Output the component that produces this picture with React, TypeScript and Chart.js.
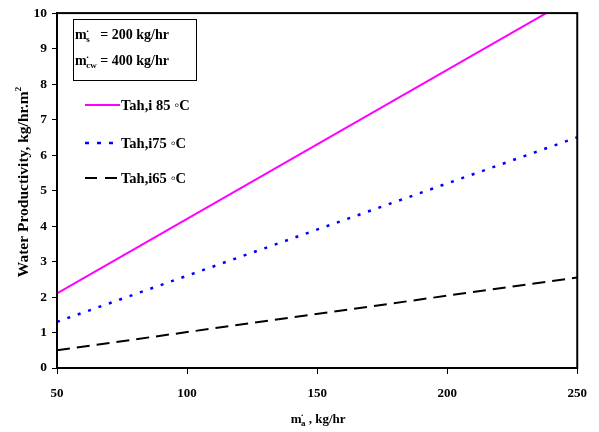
import React, { useEffect, useRef } from "react";
import { Chart, registerables } from "chart.js";

Chart.register(...registerables);

const xValues = [50, 250];
const tah85 = [2.1, 10.5];
const tah75 = [1.3, 6.5];
const tah65 = [0.5, 2.55];
const seriesLabels = ["Tah,i 85 \u25E6C", "Tah,i75 \u25E6C", "Tah,i65 \u25E6C"];
const xTicks = [50, 100, 150, 200, 250];
const yTicks = [0, 1, 2, 3, 4, 5, 6, 7, 8, 9, 10];
const flowS = "200";
const flowCw = "400";

const FONT = "'Liberation Serif', 'Times New Roman', serif";

type Part = { t: string; s: number; dy: number; dx?: number };

function drawParts(ctx: CanvasRenderingContext2D, parts: Part[], x: number, y: number, align: "left" | "center") {
  let total = 0;
  for (const p of parts) {
    ctx.font = `bold ${p.s}px ${FONT}`;
    total += ctx.measureText(p.t).width + (p.dx || 0);
  }
  let cx = align === "center" ? x - total / 2 : x;
  ctx.textAlign = "left";
  ctx.textBaseline = "alphabetic";
  for (const p of parts) {
    ctx.font = `bold ${p.s}px ${FONT}`;
    cx += p.dx || 0;
    ctx.fillText(p.t, cx, y + p.dy);
    cx += ctx.measureText(p.t).width;
  }
}

const decorPlugin = {
  id: "decor",
  afterDraw(chart: any) {
    const ctx: CanvasRenderingContext2D = chart.ctx;
    const a = chart.chartArea;
    ctx.save();
    ctx.fillStyle = "#000";
    ctx.strokeStyle = "#000";
    // frame
    ctx.lineWidth = 2;
    ctx.strokeRect(a.left, a.top, a.right - a.left, a.bottom - a.top);

    // info box
    ctx.lineWidth = 1;
    ctx.strokeRect(73.5, 19.5, 123, 61);
    drawParts(ctx, [
      { t: "m", s: 14, dy: 0 },
      { t: "\u02D9", s: 11, dy: -1, dx: -1 },
      { t: "s", s: 9, dy: 3, dx: -3 },
      { t: "   = " + flowS + " kg/hr", s: 14, dy: 0 },
    ], 75, 39, "left");
    drawParts(ctx, [
      { t: "m", s: 14, dy: 0 },
      { t: "\u02D9", s: 11, dy: -1, dx: -1 },
      { t: "cw", s: 9, dy: 3, dx: -3 },
      { t: " = " + flowCw + " kg/hr", s: 14, dy: 0 },
    ], 75, 65, "left");

    // legend
    const ys = [105, 143, 178];
    chart.data.datasets.forEach((ds: any, i: number) => {
      const y = ys[i];
      ctx.save();
      ctx.strokeStyle = ds.borderColor;
      ctx.lineWidth = ds.borderWidth;
      ctx.setLineDash(ds.legendDash || []);
      ctx.beginPath();
      ctx.moveTo(85, y);
      ctx.lineTo(120, y);
      ctx.stroke();
      ctx.restore();
      ctx.fillStyle = "#000";
      ctx.font = `bold 14.5px ${FONT}`;
      ctx.textAlign = "left";
      ctx.textBaseline = "middle";
      ctx.fillText(ds.label, 121, y + 1);
    });

    // x title
    drawParts(ctx, [
      { t: "m", s: 13, dy: 0 },
      { t: "\u02D9", s: 10, dy: -1, dx: -1 },
      { t: "a", s: 9, dy: 3, dx: -3 },
      { t: " , kg/hr", s: 13, dy: 0 },
    ], (a.left + a.right) / 2 + 1, 423, "center");

    // y title
    ctx.save();
    ctx.translate(28, 182);
    ctx.rotate(-Math.PI / 2);
    drawParts(ctx, [
      { t: "Water Productivity, kg/hr.m", s: 15.5, dy: 0 },
      { t: "2", s: 9, dy: -7 },
    ], 0, 0, "center");
    ctx.restore();
    ctx.restore();
  },
};

export default function App() {
  const ref = useRef<HTMLCanvasElement>(null);
  useEffect(() => {
    document.body.style.margin = "0";
    const mk = (ys: number[]) => xValues.map((x, i) => ({ x, y: ys[i] }));
    const chart = new Chart(ref.current!, {
      type: "line",
      data: {
        datasets: [
          { label: seriesLabels[0], data: mk(tah85), borderColor: "#FF00FF", borderWidth: 2, pointRadius: 0, clip: 0 as any, fill: false },
          { label: seriesLabels[1], data: mk(tah75), borderColor: "#0000FF", borderWidth: 2.5, borderDash: [3, 8], legendDash: [4, 8], pointRadius: 0, clip: 1 as any, fill: false },
          { label: seriesLabels[2], data: mk(tah65), borderColor: "#000000", borderWidth: 2, borderDash: [13, 7], legendDash: [12, 8], pointRadius: 0, clip: 1 as any, fill: false },
        ],
      },
      options: {
        responsive: false,
        animation: false,
        layout: { padding: { top: 9, right: 21, left: 0, bottom: 0 } },
        plugins: { legend: { display: false }, tooltip: { enabled: false } },
        scales: {
          x: {
            type: "linear",
            min: 50,
            max: 250,
            afterBuildTicks: (s: any) => { s.ticks = xTicks.map((v) => ({ value: v })); },
            afterFit: (s: any) => { s.height = 64; },
            ticks: { color: "#000", padding: 12, font: { family: FONT, weight: "bold", size: 13 } },
            grid: { drawOnChartArea: false, tickLength: 6, color: "#000", tickWidth: 1 },
            border: { color: "#000", width: 2 },
          },
          y: {
            type: "linear",
            min: 0,
            max: 10,
            afterBuildTicks: (s: any) => { s.ticks = yTicks.map((v) => ({ value: v })); },
            afterFit: (s: any) => { s.width = 57; },
            ticks: { color: "#000", padding: 5, font: { family: FONT, weight: "bold", size: 13.5 } },
            grid: { drawOnChartArea: false, tickLength: 5, color: "#000", tickWidth: 1 },
            border: { color: "#000", width: 2 },
          },
        },
      } as any,
      plugins: [decorPlugin],
    });
    return () => chart.destroy();
  }, []);
  return (
    <div style={{ width: 599, height: 432 }}>
      <canvas ref={ref} width={599} height={432} style={{ display: "block" }} />
    </div>
  );
}
